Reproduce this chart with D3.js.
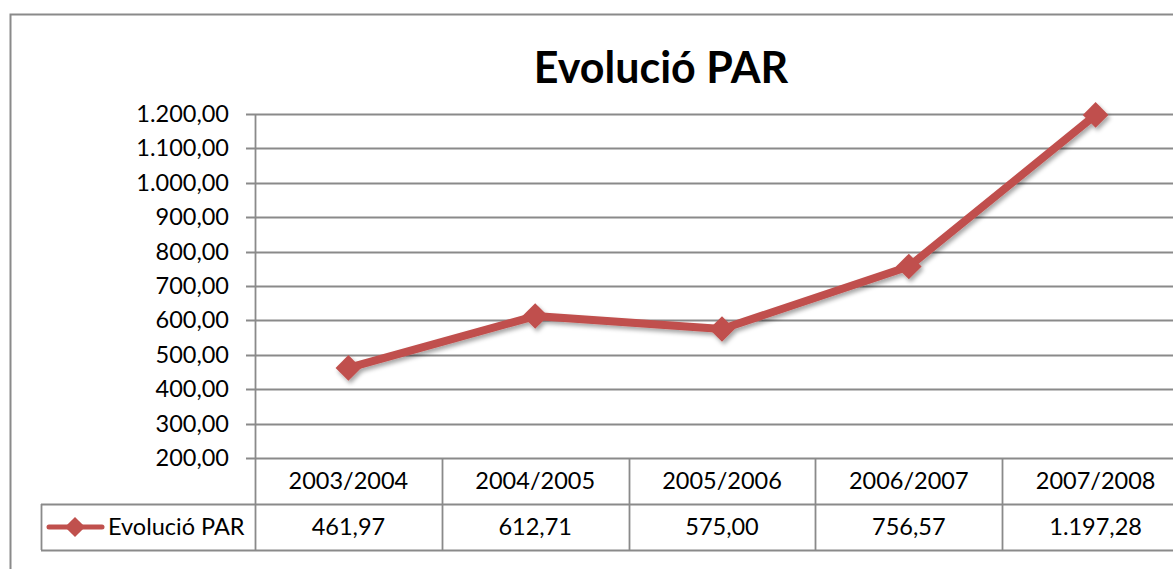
<!DOCTYPE html>
<html>
<head>
<meta charset="utf-8">
<script src="https://cdn.jsdelivr.net/npm/d3@7"></script>
<style>
  body { margin: 0; background: #fff; }
  svg { display: block; font-family: Lato, "Open Sans", sans-serif; }
</style>
</head>
<body>
<svg id="chart" width="1173" height="569"></svg>
<script>
// data
const categories = ["2003/2004", "2004/2005", "2005/2006", "2006/2007", "2007/2008"];
const values = [461.97, 612.71, 575.00, 756.57, 1197.28];
const seriesName = "Evolució PAR";
const yTicks = [200, 300, 400, 500, 600, 700, 800, 900, 1000, 1100, 1200];

const W = 1173, H = 569;
const plotLeft = 255, plotRight = 1189, plotTop = 114, plotBottom = 458;
const rowH = 46; // table row height
const legendLeft = 41;
const red = "#C0504D", grey = "#8A8A8A";
const fs = 23.5;

// catalan style numbers: 1.200,00
const cat = d3.formatLocale({ decimal: ",", thousands: ".", grouping: [3], currency: ["", " €"] });
const fmt = cat.format(",.2f");

const svg = d3.select("#chart");

// shadow under the line
const defs = svg.append("defs");
defs.append("filter").attr("id", "shadow")
  .attr("x", "-20%").attr("y", "-20%").attr("width", "140%").attr("height", "140%")
  .append("feDropShadow")
  .attr("dx", 2).attr("dy", 3).attr("stdDeviation", 2)
  .attr("flood-color", "#000").attr("flood-opacity", 0.35);

// outer chart frame (cut off on the right like the picture)
svg.append("rect")
  .attr("x", 10.5).attr("y", 14.5)
  .attr("width", W + 20).attr("height", H + 20)
  .attr("fill", "none").attr("stroke", grey).attr("stroke-width", 2);

const x = d3.scaleBand().domain(categories).range([plotLeft, plotRight]);
const y = d3.scaleLinear().domain([200, 1200]).range([plotBottom, plotTop]);

// title
svg.append("text")
  .attr("x", 661).attr("y", 83)
  .attr("text-anchor", "middle")
  .attr("font-size", 43).attr("font-weight", "bold")
  .attr("fill", "#000")
  .text("Evolució PAR");

// gridlines + ticks
svg.append("g").selectAll("line").data(yTicks).join("line")
  .attr("x1", plotLeft - 9).attr("x2", W)
  .attr("y1", d => Math.round(y(d)) + 0.5).attr("y2", d => Math.round(y(d)) + 0.5)
  .attr("stroke", grey).attr("stroke-width", 1.8);

// y axis labels via d3 axis (lines hidden, we draw our own)
const yAxis = svg.append("g")
  .attr("transform", `translate(${plotLeft},0)`)
  .call(d3.axisLeft(y).tickValues(yTicks).tickFormat(fmt).tickSize(0).tickPadding(26));
yAxis.select(".domain").remove();
yAxis.selectAll("text")
  .attr("font-family", "Lato, 'Open Sans', sans-serif")
  .attr("font-size", fs).attr("fill", "#000");

// data table
const tableTop = plotBottom, tableMid = plotBottom + rowH, tableBottom = plotBottom + 2 * rowH;
const tg = svg.append("g");
// vertical lines: y axis goes down through the table
tg.append("line")
  .attr("x1", plotLeft + 0.5).attr("x2", plotLeft + 0.5)
  .attr("y1", plotTop).attr("y2", tableBottom)
  .attr("stroke", grey).attr("stroke-width", 1.8);
tg.selectAll("line.col").data(categories.slice(1)).join("line")
  .attr("class", "col")
  .attr("x1", d => Math.round(x(d)) + 0.5).attr("x2", d => Math.round(x(d)) + 0.5)
  .attr("y1", tableTop).attr("y2", tableBottom)
  .attr("stroke", grey).attr("stroke-width", 1.8);
tg.append("line")
  .attr("x1", legendLeft).attr("x2", W)
  .attr("y1", tableMid + 0.5).attr("y2", tableMid + 0.5)
  .attr("stroke", grey).attr("stroke-width", 1.8);
tg.append("line")
  .attr("x1", legendLeft).attr("x2", W)
  .attr("y1", tableBottom + 0.5).attr("y2", tableBottom + 0.5)
  .attr("stroke", grey).attr("stroke-width", 1.8);
tg.append("line")
  .attr("x1", legendLeft + 0.5).attr("x2", legendLeft + 0.5)
  .attr("y1", tableMid).attr("y2", tableBottom)
  .attr("stroke", grey).attr("stroke-width", 1.8);

tg.selectAll("text.cat").data(categories).join("text")
  .attr("class", "cat")
  .attr("x", d => x(d) + x.bandwidth() / 2)
  .attr("y", tableTop + rowH / 2 + 8)
  .attr("text-anchor", "middle").attr("font-size", fs)
  .text(d => d);
tg.selectAll("text.val").data(values).join("text")
  .attr("class", "val")
  .attr("x", (d, i) => x(categories[i]) + x.bandwidth() / 2)
  .attr("y", tableMid + rowH / 2 + 8)
  .attr("text-anchor", "middle").attr("font-size", fs)
  .text(d => fmt(d));

// legend key in the table
const diamond = d3.symbol().type(d3.symbolDiamond2).size(260);
const ly = tableMid + rowH / 2;
tg.append("line")
  .attr("x1", 49).attr("x2", 102).attr("y1", ly).attr("y2", ly)
  .attr("stroke", red).attr("stroke-width", 5).attr("stroke-linecap", "round");
tg.append("path")
  .attr("d", diamond).attr("transform", `translate(75,${ly})`)
  .attr("fill", red);
tg.append("text")
  .attr("x", 108).attr("y", ly + 8)
  .attr("font-size", fs)
  .text(seriesName);

// series line + markers
const pts = values.map((v, i) => [x(categories[i]) + x.bandwidth() / 2, y(v)]);
const sg = svg.append("g").attr("filter", "url(#shadow)");
sg.append("path")
  .datum(pts)
  .attr("d", d3.line())
  .attr("fill", "none").attr("stroke", red)
  .attr("stroke-width", 8).attr("stroke-linejoin", "round");
sg.selectAll("path.mk").data(pts).join("path")
  .attr("class", "mk")
  .attr("d", d3.symbol().type(d3.symbolDiamond2).size(420))
  .attr("transform", d => `translate(${d[0]},${d[1]})`)
  .attr("fill", red);
</script>
</body>
</html>
